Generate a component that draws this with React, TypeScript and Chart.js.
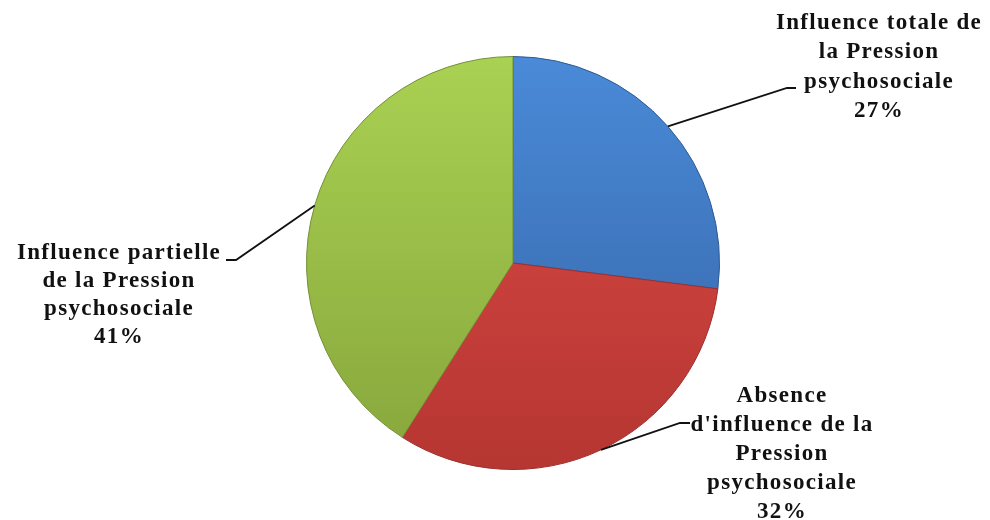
import React, { useEffect, useRef } from "react";
import { Chart, registerables } from "chart.js";

Chart.register(...registerables);

const categories = [
  "Influence totale de la Pression psychosociale",
  "Absence d'influence de la Pression psychosociale",
  "Influence partielle de la Pression psychosociale",
];
const values = [27, 32, 41];
const labelLines = [
  ["Influence totale de", "la Pression", "psychosociale", "27%"],
  ["Absence", "d'influence de la", "Pression", "psychosociale", "32%"],
  ["Influence partielle", "de la Pression", "psychosociale", "41%"],
];
const topColors = ["#4a8ad8", "#dc4a46", "#a9d152"];
const bottomColors = ["#3463a4", "#b63632", "#87a63c"];
const edgeColors = ["#2f5a92", "#9c2f2c", "#748f35"];

// label layout: text centre x, first-line y, leader elbow point, horizontal tail end
const labelLayout = [
  { cx: 878, y0: 23, lh: 29.5, elbow: [787, 88], tail: [796, 88] },
  { cx: 781, y0: 396, lh: 29, elbow: [680, 423], tail: [690, 423] },
  { cx: 118, y0: 253, lh: 28, elbow: [236, 260], tail: [226, 260] },
];

const labelPlugin = {
  id: "labelPlugin",
  afterDatasetsDraw(chart: any) {
    const ctx = chart.ctx;
    const meta = chart.getDatasetMeta(0);
    ctx.save();
    meta.data.forEach((arc: any, i: number) => {
      const { x, y, startAngle, endAngle, outerRadius } = arc.getProps(
        ["x", "y", "startAngle", "endAngle", "outerRadius"],
        true
      );
      const mid = (startAngle + endAngle) / 2;
      const px = x + Math.cos(mid) * outerRadius;
      const py = y + Math.sin(mid) * outerRadius;
      const L = labelLayout[i];
      ctx.strokeStyle = "#111";
      ctx.lineWidth = 1.8;
      ctx.beginPath();
      ctx.moveTo(px, py);
      ctx.lineTo(L.elbow[0], L.elbow[1]);
      ctx.lineTo(L.tail[0], L.tail[1]);
      ctx.stroke();
      ctx.fillStyle = "#111";
      ctx.font = "bold 23px 'Liberation Serif', serif";
      (ctx as any).letterSpacing = "1.3px";
      ctx.textAlign = "center";
      ctx.textBaseline = "middle";
      labelLines[i].forEach((t, j) => {
        ctx.fillText(t, L.cx + 1, L.y0 + j * L.lh);
      });
    });
    ctx.restore();
  },
};

export default function App() {
  const ref = useRef<HTMLCanvasElement | null>(null);
  useEffect(() => {
    document.body.style.margin = "0";
    const canvas = ref.current!;
    const chart = new Chart(canvas, {
      type: "pie",
      data: {
        labels: categories,
        datasets: [
          {
            data: values,
            backgroundColor: (c: any) => {
              const ch = c.chart;
              const area = ch.chartArea;
              if (!area) return topColors[c.dataIndex];
              const g = ch.ctx.createLinearGradient(0, area.top, 0, area.bottom);
              g.addColorStop(0, topColors[c.dataIndex]);
              g.addColorStop(1, bottomColors[c.dataIndex]);
              return g;
            },
            borderColor: edgeColors,
            borderWidth: 1,
          },
        ],
      },
      options: {
        responsive: false,
        animation: false,
        layout: { padding: { top: 56, bottom: 50, left: 306, right: 270 } },
        plugins: { legend: { display: false }, tooltip: { enabled: false } },
      },
      plugins: [labelPlugin],
    });
    return () => chart.destroy();
  }, []);
  return (
    <div style={{ position: "absolute", left: 0, top: 0, width: 990, height: 520, background: "#fff" }}>
      <canvas ref={ref} width={990} height={520} />
    </div>
  );
}
